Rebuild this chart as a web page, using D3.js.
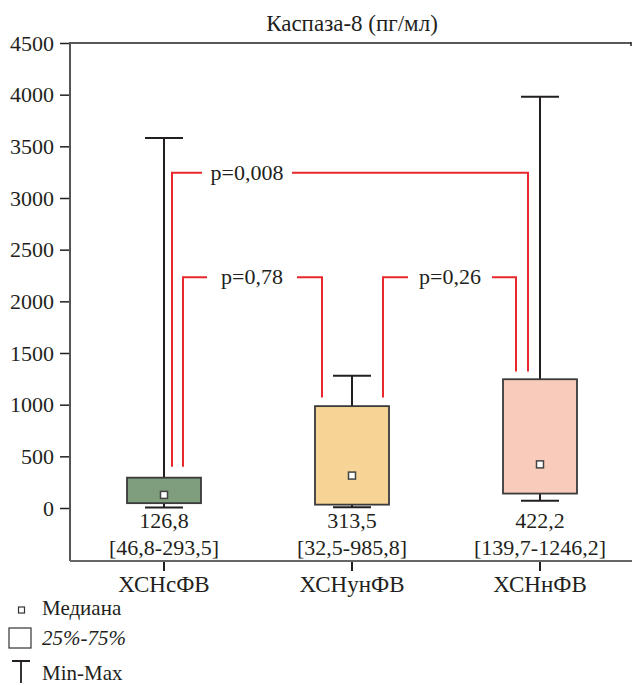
<!DOCTYPE html>
<html>
<head>
<meta charset="utf-8">
<script src="https://cdn.jsdelivr.net/npm/d3@7"></script>
<style>
    body { margin: 0; background: #fff; }
    svg text { font-family: "Liberation Serif", "DejaVu Serif", serif; fill: #231f20; }
</style>
</head>
<body>
<div id="vis"></div>
<script>
    // data
    var groups   = ["ХСНсФВ", "ХСНунФВ", "ХСНнФВ"];
    var mins     = [5, 8, 70];
    var q1s      = [46.8, 32.5, 139.7];
    var medians  = [126.8, 313.5, 422.2];
    var q3s      = [293.5, 985.8, 1246.2];
    var maxs     = [3580, 1280, 3980];
    var medianLabels = ["126,8", "313,5", "422,2"];
    var iqrLabels    = ["[46,8-293,5]", "[32,5-985,8]", "[139,7-1246,2]"];
    var fills    = ["#7f9e7e", "#f6d495", "#f9cbbb"];
    var yTicks   = [0, 500, 1000, 1500, 2000, 2500, 3000, 3500, 4000, 4500];

    // comparisons: groups, level of bracket, ends of the legs, label
    var pLabels  = ["p=0,008", "p=0,78", "p=0,26"];
    var pFrom    = [0, 0, 1];
    var pTo      = [2, 1, 2];
    var pLevel   = [3245, 2232, 2232];
    var pLegFrom = [400, 400, 1070];
    var pLegTo   = [1320, 1070, 1320];

    var width = 632, height = 685;
    var serif = '"Liberation Serif", "DejaVu Serif", serif';

    var svg = d3.select("#vis").append("svg")
        .attr("width", width)
        .attr("height", height);

    var x = d3.scaleBand().domain(groups).range([70, 634]);
    var y = d3.scaleLinear().domain([0, 4500]).range([508, 43]);

    var cx = function(i){ return x(groups[i]) + x.bandwidth() / 2; };
    var boxW = 74, capW = 38;

    // title
    svg.append("text")
        .attr("x", 352).attr("y", 31)
        .attr("text-anchor", "middle")
        .style("font-family", serif)
        .style("font-size", "23px")
        .text("Каспаза-8 (пг/мл)");

    // frame lines
    svg.append("line").attr("x1", 70).attr("x2", 631).attr("y1", 43).attr("y2", 43)
        .attr("stroke", "#231f20").attr("stroke-width", 1.5);
    svg.append("line").attr("x1", 631).attr("x2", 631).attr("y1", 42).attr("y2", 46)
        .attr("stroke", "#231f20").attr("stroke-width", 1.5);

    // y axis
    var yAxis = svg.append("g")
        .attr("transform", "translate(70,0)")
        .call(d3.axisLeft(y).tickValues(yTicks).tickFormat(d3.format("d"))
            .tickSize(10).tickPadding(6).tickSizeOuter(0));
    yAxis.select(".domain").remove();
    yAxis.attr("font-family", null).attr("font-size", null);
    yAxis.selectAll("line").attr("stroke", "#231f20").attr("stroke-width", 1.5);
    yAxis.selectAll("text").style("font-family", serif).style("font-size", "22px").attr("fill", "#231f20");
    svg.append("line").attr("x1", 70).attr("x2", 70).attr("y1", 42).attr("y2", 561)
        .attr("stroke", "#555").attr("stroke-width", 2);

    // x axis
    var xAxis = svg.append("g")
        .attr("transform", "translate(0,561)")
        .call(d3.axisBottom(x).tickSize(10).tickPadding(5).tickSizeOuter(0));
    xAxis.select(".domain").remove();
    xAxis.attr("font-family", null).attr("font-size", null);
    xAxis.selectAll("line").attr("stroke", "#231f20").attr("stroke-width", 2);
    xAxis.selectAll("text").style("font-family", serif).style("font-size", "23px").attr("fill", "#231f20");
    svg.append("line").attr("x1", 70).attr("x2", 632).attr("y1", 561).attr("y2", 561)
        .attr("stroke", "#666").attr("stroke-width", 2);

    // p-value brackets
    var red = "#e8282c";
    var brackets = svg.append("g").attr("class", "brackets");
    var legOffL = [8, 19, 31], legOffR = [-12, -30, -24];
    var labelOff = [75, 69, 67], halfGap = [45, 45, 42];
    pLabels.forEach(function(lbl, k) {
        var xl = cx(pFrom[k]) + legOffL[k];
        var xr = cx(pTo[k]) + legOffR[k];
        var yl = y(pLevel[k]);
        var xm = xl + labelOff[k];
        brackets.append("text")
            .attr("x", xm)
            .attr("y", yl + 7)
            .attr("text-anchor", "middle")
            .style("font-family", serif)
            .style("font-size", "22px")
            .text(lbl);
        brackets.append("path")
            .attr("d", "M" + xl + "," + y(pLegFrom[k]) + "V" + yl + "H" + (xm - halfGap[k]))
            .attr("fill", "none").attr("stroke", red).attr("stroke-width", 2);
        brackets.append("path")
            .attr("d", "M" + (xm + halfGap[k]) + "," + yl + "H" + xr + "V" + y(pLegTo[k]))
            .attr("fill", "none").attr("stroke", red).attr("stroke-width", 2);
    });

    // boxes
    var box = svg.selectAll(".box").data(groups).enter().append("g").attr("class", "box");

    box.append("line")
        .attr("x1", function(d, i){ return cx(i); })
        .attr("x2", function(d, i){ return cx(i); })
        .attr("y1", function(d, i){ return y(maxs[i]); })
        .attr("y2", function(d, i){ return y(mins[i]); })
        .attr("stroke", "#231f20").attr("stroke-width", 2);
    box.append("line")
        .attr("x1", function(d, i){ return cx(i) - capW / 2; })
        .attr("x2", function(d, i){ return cx(i) + capW / 2; })
        .attr("y1", function(d, i){ return y(maxs[i]); })
        .attr("y2", function(d, i){ return y(maxs[i]); })
        .attr("stroke", "#231f20").attr("stroke-width", 2);
    box.append("line")
        .attr("x1", function(d, i){ return cx(i) - capW / 2; })
        .attr("x2", function(d, i){ return cx(i) + capW / 2; })
        .attr("y1", function(d, i){ return y(mins[i]); })
        .attr("y2", function(d, i){ return y(mins[i]); })
        .attr("stroke", "#231f20").attr("stroke-width", 2);
    box.append("rect")
        .attr("x", function(d, i){ return cx(i) - boxW / 2; })
        .attr("width", boxW)
        .attr("y", function(d, i){ return y(q3s[i]); })
        .attr("height", function(d, i){ return y(q1s[i]) - y(q3s[i]); })
        .attr("fill", function(d, i){ return fills[i]; })
        .attr("stroke", "#3a3a3a").attr("stroke-width", 1.8);
    box.append("rect")
        .attr("x", function(d, i){ return cx(i) - 3.5; })
        .attr("y", function(d, i){ return y(medians[i]) - 3.5; })
        .attr("width", 7).attr("height", 7)
        .attr("fill", "#fff")
        .attr("stroke", "#444").attr("stroke-width", 1.5);

    box.append("text")
        .attr("x", function(d, i){ return cx(i); })
        .attr("y", 528)
        .attr("text-anchor", "middle")
        .style("font-family", serif)
        .style("font-size", "22px")
        .text(function(d, i){ return medianLabels[i]; });
    box.append("text")
        .attr("x", function(d, i){ return cx(i); })
        .attr("y", 555)
        .attr("text-anchor", "middle")
        .style("font-family", serif)
        .style("font-size", "22px")
        .text(function(d, i){ return iqrLabels[i]; });

    // legend
    var legend = svg.append("g").attr("class", "legend")
        .style("font-family", serif).style("font-size", "21px");
    legend.append("rect").attr("x", 18.5).attr("y", 607).attr("width", 6).attr("height", 6)
        .attr("fill", "#fff").attr("stroke", "#333").attr("stroke-width", 1.2);
    legend.append("text").attr("x", 42).attr("y", 615).style("font-family", serif).text("Медиана");
    legend.append("rect").attr("x", 9).attr("y", 628).attr("width", 22).attr("height", 20)
        .attr("fill", "#fff").attr("stroke", "#333").attr("stroke-width", 1.2);
    legend.append("text").attr("x", 42).attr("y", 645).style("font-family", serif)
        .style("font-style", "italic").text("25%-75%");
    legend.append("path").attr("d", "M12,661H30M21,661V683")
        .attr("fill", "none").attr("stroke", "#231f20").attr("stroke-width", 1.8);
    legend.append("text").attr("x", 42).attr("y", 680).style("font-family", serif).text("Min-Max");
</script>
</body>
</html>
